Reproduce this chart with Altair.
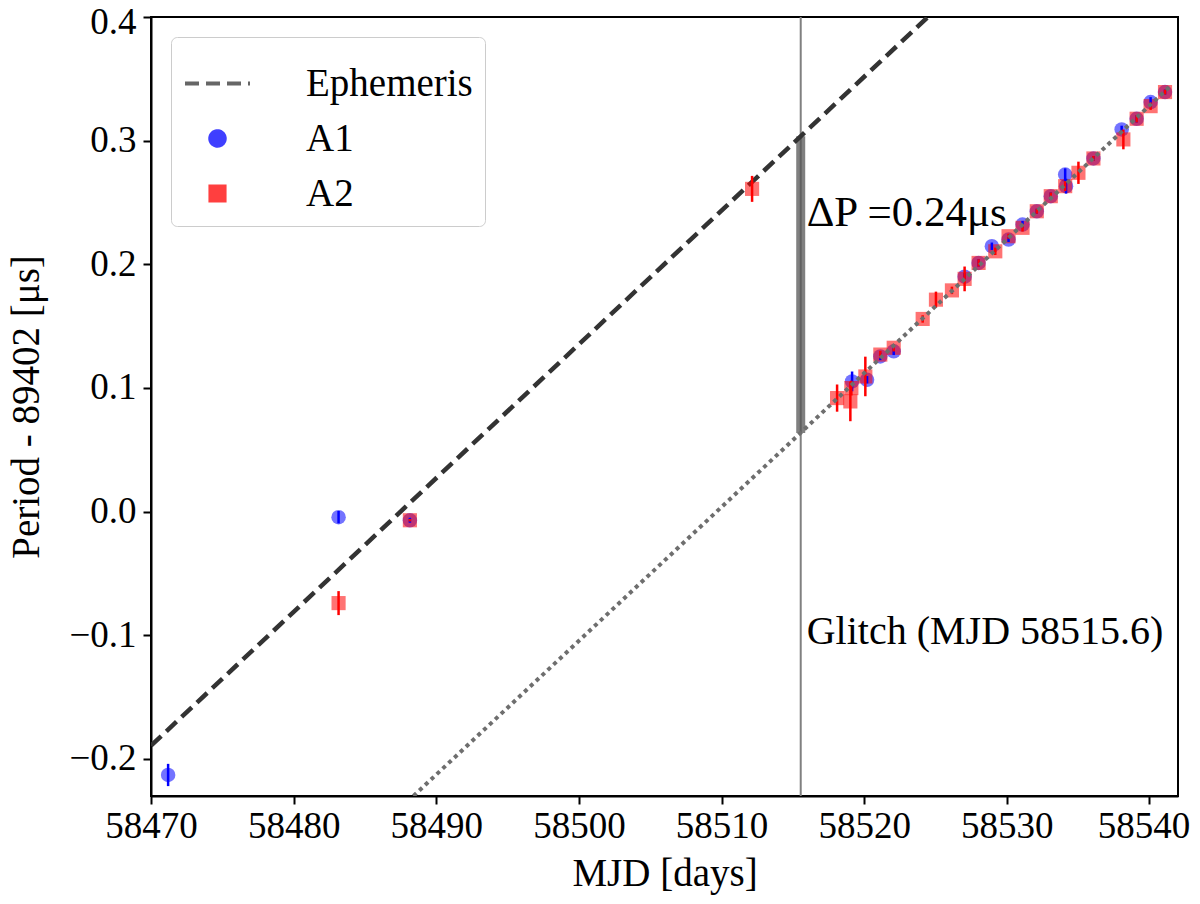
import altair as alt
import pandas as pd

# -----------------------------
# DATA
# -----------------------------
a1_mjd = [58471.2, 58483.15, 58488.15, 58519.15, 58520.2, 58521.13, 58522.07,
          58527.04, 58528.02, 58528.95, 58530.12, 58531.10, 58532.10, 58533.08,
          58534.09, 58534.15, 58536.07, 58538.05, 58539.10, 58540.08, 58541.09]
a1_period = [-0.213, -0.0045, -0.007, 0.1053, 0.1066, 0.1255, 0.1296,
             0.190, 0.2011, 0.2146, 0.2200, 0.2321, 0.2429, 0.2551,
             0.2726, 0.2632, 0.2856, 0.3091, 0.3177, 0.3312, 0.3393]
a1_err = [0.009, 0.005, 0.002, 0.008, 0.003, 0.003, 0.003,
          0.003, 0.003, 0.003, 0.002, 0.003, 0.002, 0.003,
          0.005, 0.006, 0.002, 0.003, 0.003, 0.004, 0.002]

a2_mjd = [58483.15, 58488.15, 58512.14, 58518.10, 58519.03, 58519.10, 58520.08,
          58521.13, 58522.07, 58524.10, 58525.03, 58526.15, 58527.04, 58528.02,
          58529.19, 58530.12, 58531.10, 58532.10, 58533.08, 58534.09, 58535.02,
          58536.07, 58538.17, 58539.10, 58540.08, 58541.09]
a2_period = [-0.074, -0.007, 0.261, 0.0918, 0.0891, 0.0999, 0.1093,
             0.1270, 0.1325, 0.1558, 0.1714, 0.1789, 0.1882, 0.2011,
             0.2105, 0.2227, 0.2295, 0.2429, 0.2551, 0.2632, 0.2740,
             0.2856, 0.3010, 0.3177, 0.3279, 0.3393]
a2_err = [0.0097, 0.001, 0.0105, 0.011, 0.016, 0.006, 0.016,
          0.003, 0.003, 0.003, 0.0065, 0.003, 0.010, 0.003,
          0.003, 0.002, 0.003, 0.002, 0.003, 0.004, 0.009,
          0.002, 0.008, 0.003, 0.003, 0.002]

# pre-glitch ephemeris and post-glitch trend (line end points)
ephem_mjd = [58470.0, 58525.0]
ephem_period = [-0.1893, 0.4058]
post_mjd = [58488.4, 58541.4]
post_period = [-0.2300, 0.3435]

glitch_mjd = 58515.55
glitch_low = 0.0635
glitch_high = 0.3036
dp_label = "ΔP =0.24μs"
dp_label_period = 0.2417
glitch_label = "Glitch (MJD 58515.6)"
glitch_label_period = -0.097

series_names = ["Ephemeris", "A1", "A2"]
series_colors = ["#333333", "#0000ff", "#ff0000"]
series_shapes = ["stroke", "circle", "square"]
series_dashes = [[14, 7], [1, 0], [1, 0]]
series_sizes = [4225, 210, 200]

FONT = "Liberation Serif"

# -----------------------------
# TABLES
# -----------------------------
points = pd.concat([
    pd.DataFrame({"mjd": a1_mjd, "period": a1_period, "err": a1_err, "series": "A1"}),
    pd.DataFrame({"mjd": a2_mjd, "period": a2_period, "err": a2_err, "series": "A2"}),
])
points["lo"] = points["period"] - points["err"]
points["hi"] = points["period"] + points["err"]

ephem = pd.DataFrame({"mjd": ephem_mjd, "period": ephem_period, "series": "Ephemeris"})
post = pd.DataFrame({"mjd": post_mjd, "period": post_period})
glitch = pd.DataFrame({"mjd": [glitch_mjd], "lo": [glitch_low], "hi": [glitch_high],
                       "dp": [dp_label], "dp_y": [dp_label_period],
                       "gl": [glitch_label], "gl_y": [glitch_label_period]})

# -----------------------------
# SCALES / AXES
# -----------------------------
x_scale = alt.Scale(domain=[58470, 58542], nice=False, zero=False)
y_scale = alt.Scale(domain=[-0.23, 0.4], nice=False, zero=False)
color_scale = alt.Scale(domain=series_names, range=series_colors)
shape_scale = alt.Scale(domain=series_names, range=series_shapes)
dash_scale = alt.Scale(domain=series_names, range=series_dashes)
size_scale = alt.Scale(type="ordinal", domain=series_names, range=series_sizes)

x_axis = alt.Axis(title="MJD [days]", values=[58470, 58480, 58490, 58500, 58510, 58520, 58530, 58540],
                  format="d", grid=False, labelPadding=4, titlePadding=10,
                  labelOffset=alt.condition("datum.value >= 58540", alt.value(-6), alt.value(0)))
y_axis = alt.Axis(title="Period - 89402 [μs]", values=[-0.2, -0.1, 0.0, 0.1, 0.2, 0.3, 0.4],
                  format=".1f", grid=False, labelPadding=7, titlePadding=22,
                  labelOffset=alt.condition("datum.value >= 0.39", alt.value(5), alt.value(0)))

legend = alt.Legend(
    title=None, orient="none", legendX=20, legendY=20,
    labelFont=FONT, labelFontSize=39, labelColor="black", labelOffset=54, labelLimit=400,
    padding=12, rowPadding=15, symbolStrokeWidth=4, symbolOpacity=0.75,
    strokeColor="#cccccc", fillColor="white", cornerRadius=6,
)

# -----------------------------
# LAYERS
# -----------------------------
ephem_line = alt.Chart(ephem).mark_line(strokeWidth=4.5, clip=True).encode(
    x=alt.X("mjd:Q", scale=x_scale, axis=x_axis),
    y=alt.Y("period:Q", scale=y_scale, axis=y_axis),
    color=alt.Color("series:N", scale=color_scale, legend=legend),
    strokeDash=alt.StrokeDash("series:N", scale=dash_scale, legend=legend),
)

post_line = alt.Chart(post).mark_line(strokeDash=[4, 4], strokeWidth=4, color="#6e6e6e", clip=True).encode(
    x="mjd:Q", y="period:Q"
)

glitch_rule = alt.Chart(glitch).mark_rule(color="#808080", strokeWidth=2).encode(x="mjd:Q")

glitch_band = alt.Chart(glitch).mark_rule(color="#555555", strokeWidth=9, opacity=0.75).encode(
    x="mjd:Q", y="lo:Q", y2="hi:Q"
)

markers = alt.Chart(points).mark_point(filled=True, opacity=0.55).encode(
    x="mjd:Q", y="period:Q",
    color=alt.Color("series:N", scale=color_scale, legend=legend),
    shape=alt.Shape("series:N", scale=shape_scale, legend=legend),
    size=alt.Size("series:N", scale=size_scale, legend=legend),
)

errbars = alt.Chart(points).mark_rule(strokeWidth=2.5).encode(
    x="mjd:Q", y="lo:Q", y2="hi:Q",
    color=alt.Color("series:N", scale=color_scale, legend=legend),
)

dp_text = alt.Chart(glitch).mark_text(align="left", baseline="middle", dx=6, font=FONT,
                                      fontSize=43, color="black").encode(
    x="mjd:Q", y="dp_y:Q", text="dp:N"
)

glitch_text = alt.Chart(glitch).mark_text(align="left", baseline="middle", dx=6, font=FONT,
                                          fontSize=40, color="black").encode(
    x="mjd:Q", y="gl_y:Q", text="gl:N"
)

chart = alt.layer(
    glitch_rule, glitch_band, ephem_line, markers, errbars, post_line, dp_text, glitch_text
).properties(
    width=1027, height=779,
    autosize=alt.AutoSizeParams(type="none"),
    padding={"left": 143, "top": 9, "right": 13, "bottom": 100},
).configure_view(
    stroke="black", strokeWidth=2
).configure_axis(
    labelFont=FONT, labelFontSize=37, labelColor="black",
    titleFont=FONT, titleFontSize=39, titleColor="black", titleFontWeight="normal",
    domainColor="black", domainWidth=2, tickColor="black", tickWidth=2, tickSize=8,
    labelFlush=False,
)

chart.save("out.html", embed_options={"renderer": "svg", "actions": False})
